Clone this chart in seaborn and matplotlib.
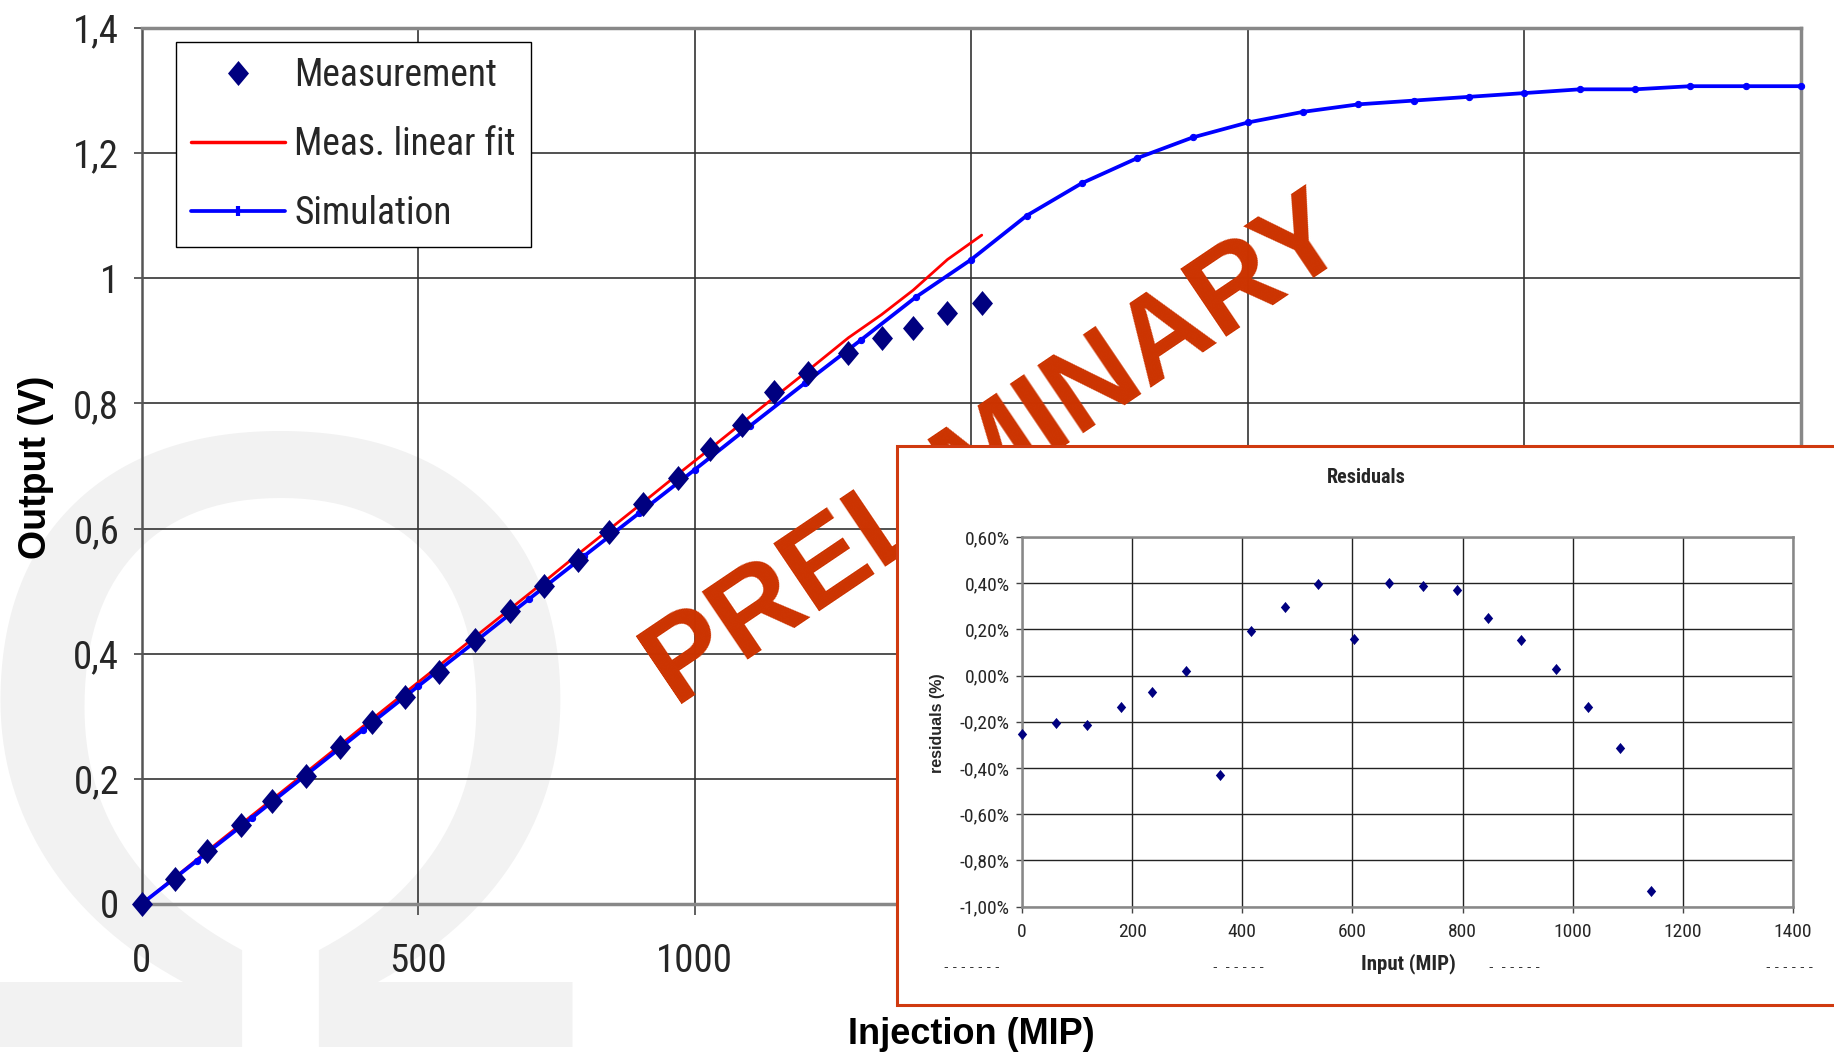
import matplotlib
matplotlib.use('Agg')
import matplotlib.pyplot as plt
from matplotlib import font_manager as fm
from matplotlib.font_manager import FontProperties
from matplotlib.lines import Line2D
from matplotlib.patches import Rectangle
from matplotlib.ticker import FuncFormatter, MultipleLocator
import seaborn as sns

# measured points (injection in MIP, output in V)
meas_x = [0, 61, 118, 179, 236, 297, 359, 416, 477, 538, 603, 667, 728, 789, 846,
          907, 970, 1027, 1086, 1143, 1204, 1278, 1338, 1395, 1457, 1519]
meas_y = [0.000, 0.040, 0.085, 0.126, 0.165, 0.205, 0.251, 0.291, 0.331, 0.371, 0.422, 0.469,
          0.508, 0.549, 0.595, 0.640, 0.681, 0.727, 0.766, 0.818, 0.848, 0.880, 0.904,
          0.920, 0.944, 0.960]
# linear fit, read at the measurement points
fit_y = [0.000, 0.043, 0.084, 0.127, 0.167, 0.210, 0.254, 0.295, 0.338, 0.381, 0.427, 0.472,
         0.515, 0.559, 0.599, 0.642, 0.687, 0.727, 0.769, 0.809, 0.852, 0.905, 0.942,
         0.981, 1.030, 1.069]
# simulation
sim_x = [0, 100, 200, 300, 400, 500, 600, 700, 800, 900, 1000, 1100, 1200, 1300, 1400,
         1500, 1600, 1700, 1800, 1900, 2000, 2100, 2200, 2300, 2400, 2500, 2600, 2700,
         2800, 2900, 3000]
sim_y = [0.000, 0.069, 0.138, 0.208, 0.278, 0.348, 0.417, 0.487, 0.556, 0.625, 0.694, 0.764,
         0.833, 0.901, 0.970, 1.030, 1.100, 1.152, 1.192, 1.225, 1.249, 1.266, 1.278,
         1.284, 1.290, 1.296, 1.302, 1.302, 1.307, 1.307, 1.307]
# residuals of the fit (%), first 20 measurement points
resid_x = meas_x[:20]
resid = [-0.253, -0.206, -0.214, -0.136, -0.070, 0.021, -0.430, 0.191, 0.296, 0.395,
         0.159, 0.401, 0.388, 0.369, 0.250, 0.152, 0.028, -0.136, -0.313, -0.935]

sns.set_theme(style='white')
plt.rcParams['font.family'] = ['Liberation Sans', 'DejaVu Sans']


def narrow_font(bold=False):
    # look for a condensed face, Arial Narrow look-alike first
    prefs = ['Liberation Sans Narrow', 'Arial Narrow', 'Roboto Condensed', 'Open Sans Condensed',
             'Noto Sans', 'Open Sans', 'Roboto', 'DejaVu Sans']
    found = []
    for f in fm.fontManager.ttflist:
        cond = (str(f.stretch) in ('condensed', 'semi-condensed', 'extra-condensed')
                or 'Narrow' in f.name or 'Condensed' in f.name)
        w = f.weight if isinstance(f.weight, int) else (700 if f.weight == 'bold' else 400)
        if cond and f.style == 'normal' and ((w >= 600) == bold):
            rank = next((i for i, p in enumerate(prefs) if f.name.startswith(p)), 99)
            found.append((rank, abs(w - (700 if bold else 400)), f.fname))
    if found:
        found.sort()
        return found[0][2]
    return None


nfile = narrow_font()
nbfile = narrow_font(bold=True)


def nfp(size, bold=False):
    f = nbfile if bold else nfile
    if f:
        return FontProperties(fname=f, size=size)
    return FontProperties(family='Liberation Sans', size=size * 0.82,
                          weight='bold' if bold else 'normal')


W, H = 1834, 1057
fig = plt.figure(figsize=(W / 100, H / 100), dpi=100)
fig.patch.set_facecolor('white')

# omega watermark
fig.text(280 / W, 1 - 1047 / H, 'Ω', fontsize=635, color='#f2f2f2',
         ha='center', va='baseline', zorder=-5, family='Liberation Sans')

ax = fig.add_axes([141.5 / W, 1 - 904 / H, (1801 - 141.5) / W, (904 - 28) / H])
ax.set_facecolor('none')

navy = '#000080'
diamond = [(0, 1), (0.84, 0), (0, -1), (-0.84, 0), (0, 1)]

sns.lineplot(x=meas_x, y=fit_y, ax=ax, color='#ff0000', lw=2.0, zorder=3, clip_on=False)
sns.lineplot(x=sim_x, y=sim_y, ax=ax, color='#0000ff', lw=2.7, marker='o', ms=4.5,
             mec='#0000ff', zorder=4, clip_on=False)
sns.scatterplot(x=meas_x, y=meas_y, ax=ax, marker=diamond, s=18 ** 2, color=navy,
                linewidth=0, zorder=5, clip_on=False)

ax.set_xlim(0, 3000)
ax.set_ylim(0, 1.4)
ax.xaxis.set_major_locator(MultipleLocator(500))
ax.yaxis.set_major_locator(MultipleLocator(0.2))
# labels past 1000 sit under the inset anyway
ax.xaxis.set_major_formatter(FuncFormatter(lambda v, p: f'{v:.0f}' if v <= 1000 else ''))
ax.yaxis.set_major_formatter(FuncFormatter(lambda v, p: f'{round(v, 3):g}'.replace('.', ',')))
ax.grid(True, color='#333333', lw=1.2)
ax.set_axisbelow(True)
for side in ['top', 'right', 'bottom']:
    ax.spines[side].set_color('#888888')
    ax.spines[side].set_linewidth(2.5)
ax.spines['left'].set_color('#555555')
ax.spines['left'].set_linewidth(1.8)

ax.tick_params(axis='both', direction='out', color='#444444',
               bottom=True, left=True, width=1.2)
ax.tick_params(axis='x', length=8, pad=20)
ax.tick_params(axis='y', length=6, pad=10)
for lab in ax.get_xticklabels() + ax.get_yticklabels():
    lab.set_fontproperties(nfp(28))

ax.set_xlabel('Injection (MIP)', fontsize=26, fontweight='bold', color='black')
ax.xaxis.label.set_va('center')
ax.xaxis.set_label_coords(0.5, (904 - 1035) / 876)
ax.set_ylabel('Output (V)', fontsize=27, fontweight='bold', color='black')
ax.yaxis.label.set_va('center')
ax.yaxis.set_label_coords((36 - 141.5) / 1659.5, 0.499)

handles = [
    Line2D([], [], ls='none', marker=diamond, ms=18, color=navy, mew=0),
    Line2D([], [], color='#ff0000', lw=2.5),
    Line2D([], [], color='#0000ff', lw=2.7, marker='|', ms=7, mew=3),
]
leg = ax.legend(handles, ['Measurement', 'Meas. linear fit', 'Simulation'],
                loc='upper left', bbox_to_anchor=(176 / W, 1 - 42 / H),
                bbox_transform=fig.transFigure, borderaxespad=0,
                prop=nfp(27), frameon=True, fancybox=False,
                edgecolor='black', framealpha=1, handlelength=2.5, handletextpad=0.25,
                borderpad=0.4, labelspacing=0.85)
leg.get_frame().set_linewidth(1.0)

# watermark text
fig.text(0.543, 0.574, 'PRELIMINARY', rotation=34, rotation_mode='anchor',
         ha='center', va='center', fontsize=86, fontweight='bold', color='#cc3300',
         family='Liberation Sans', zorder=1)

# inset frame
fig.add_artist(Rectangle((897 / W, 1 - 1005 / H), 0.53, (1005 - 446) / H,
                         transform=fig.transFigure, facecolor='white',
                         edgecolor='#d03a10', lw=2.2, zorder=2))

ax2 = fig.add_axes([1022 / W, 1 - 906.5 / H, (1793 - 1022) / W, (906.5 - 537) / H], zorder=3)
ax2.set_facecolor('white')
sns.scatterplot(x=resid_x, y=resid, ax=ax2, marker=diamond, s=8 ** 2, color=navy,
                linewidth=0, zorder=5, clip_on=False)
ax2.set_xlim(0, 1400)
ax2.set_ylim(-1.0, 0.6)
ax2.xaxis.set_major_locator(MultipleLocator(200))
ax2.yaxis.set_major_locator(MultipleLocator(0.2))
ax2.yaxis.set_major_formatter(FuncFormatter(lambda v, p: f'{round(v, 3) + 0:.2f}%'.replace('.', ',')))
ax2.grid(True, color='#222222', lw=1.0)
ax2.set_axisbelow(True)
for side in ax2.spines.values():
    side.set_color('#888888')
    side.set_linewidth(1.8)
ax2.tick_params(axis='both', direction='out', color='#444444',
                bottom=True, left=True, length=4, width=1)
ax2.tick_params(axis='x', pad=8)
ax2.tick_params(axis='y', pad=5)
for lab in ax2.get_xticklabels() + ax2.get_yticklabels():
    lab.set_fontproperties(nfp(14))
ax2.set_xlabel('')
ax2.set_ylabel('')

ax2.text(0.446, 1.16, 'Residuals', transform=ax2.transAxes, ha='center', va='center',
         fontproperties=nfp(14.5, bold=True))
ax2.text(0.5006, -0.1545, 'Input (MIP)', transform=ax2.transAxes, ha='center', va='center',
         fontproperties=nfp(15, bold=True))
ax2.text(-0.110, 0.495, 'residuals (%)', transform=ax2.transAxes, ha='center', va='center',
         rotation=90, fontsize=11.5, fontweight='bold')

for x0, s in [(944, '- - - - - - -'), (1213, '-  - - - - -'), (1489, '-  - - - - -'),
              (1766, '- - - - - -')]:
    fig.text(x0 / W, 1 - 967 / H, s, fontsize=10, color='#333333', ha='left',
             va='center', zorder=4)

fig.savefig('out.png', dpi=100, facecolor='white')
